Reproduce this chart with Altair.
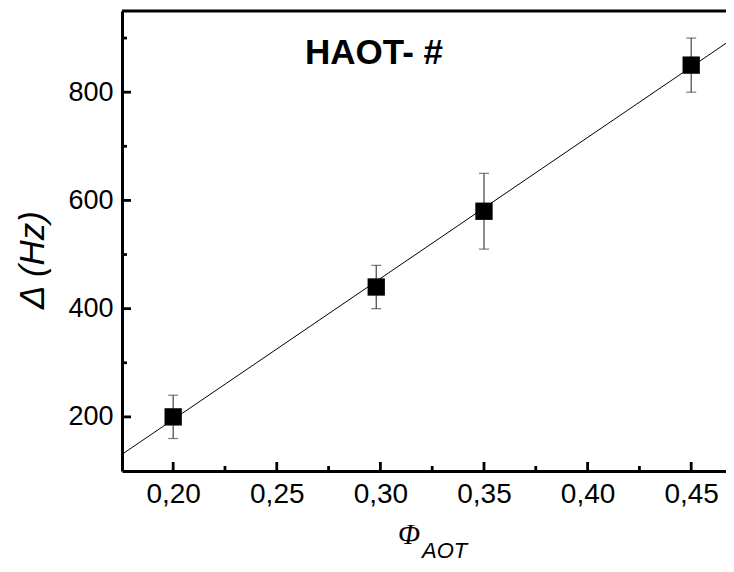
import altair as alt
import pandas as pd

# data
phi = [0.20, 0.298, 0.35, 0.45]
delta = [200, 440, 580, 850]
err_lo = [160, 400, 510, 800]
err_hi = [240, 480, 650, 900]
fit_x = [0.175, 0.4705]
fit_y = [130, 900]
x_major = [0.20, 0.25, 0.30, 0.35, 0.40, 0.45]
x_minor = [0.225, 0.275, 0.325, 0.375, 0.425]
y_major = [200, 400, 600, 800]
y_minor = [300, 500, 700, 900]
title_text = "HAOT- #"
ylabel_text = "\u0394 (Hz)"
xlabel_main = "\u03a6"
xlabel_sub = "AOT"

W, H = 604, 460
FONT = "Liberation Sans"

xscale = alt.Scale(domain=[0.1753, 0.4668], nice=False, zero=False)
yscale = alt.Scale(domain=[100, 950], nice=False, zero=False)

xaxis = alt.Axis(values=x_major, labelExpr="replace(format(datum.value, '.2f'), '.', ',')",
                 ticks=False, grid=False, title=None, domainWidth=3, domainColor="black",
                 labelFont=FONT, labelFontSize=28, labelColor="black", labelPadding=9)
yaxis = alt.Axis(values=y_major, format="d", ticks=False, grid=False, title=None,
                 domainWidth=3, domainColor="black",
                 labelFont=FONT, labelFontSize=27, labelColor="black", labelPadding=9)

pts = pd.DataFrame({"phi": phi, "delta": delta, "lo": err_lo, "hi": err_hi})
fit = pd.DataFrame({"phi": fit_x, "delta": fit_y})

X = lambda f: alt.X(f, type="quantitative", scale=xscale, axis=xaxis)
Y = lambda f: alt.Y(f, type="quantitative", scale=yscale, axis=yaxis)

EC = "#444444"
err = alt.Chart(pts).mark_rule(color=EC, strokeWidth=1.2).encode(x=X("phi"), y=Y("lo"), y2="hi")
cap_lo = alt.Chart(pts).mark_tick(color=EC, orient="horizontal", size=10, thickness=1.2).encode(x=X("phi"), y=Y("lo"))
cap_hi = alt.Chart(pts).mark_tick(color=EC, orient="horizontal", size=10, thickness=1.2).encode(x=X("phi"), y=Y("hi"))
line = alt.Chart(fit).mark_line(color="black", strokeWidth=1, clip=True).encode(x=X("phi"), y=Y("delta"))
sq = alt.Chart(pts).mark_square(color="black", filled=True, opacity=1, size=300).encode(x=X("phi"), y=Y("delta"))

def xticks(vals, length):
    return alt.Chart(pd.DataFrame({"v": vals})).mark_rule(color="black", strokeWidth=2.8).encode(
        x=X("v"), y=alt.value(H), y2=alt.value(H - length))

def yticks(vals, length):
    return alt.Chart(pd.DataFrame({"v": vals})).mark_rule(color="black", strokeWidth=2.8).encode(
        y=Y("v"), x=alt.value(0), x2=alt.value(length))

top = alt.Chart(pd.DataFrame({"a": [0]})).mark_rule(color="black", strokeWidth=3).encode(
    x=alt.value(0), x2=alt.value(W), y=alt.value(0))

ttl = alt.Chart(pd.DataFrame({"t": [title_text]})).mark_text(
    font=FONT, fontSize=35, fontWeight="bold", align="left", baseline="alphabetic", color="black"
).encode(text="t:N", x=alt.value(183), y=alt.value(53))

ylab = alt.Chart(pd.DataFrame({"t": [ylabel_text]})).mark_text(
    font=FONT, fontSize=35, fontStyle="italic", align="center", baseline="middle", angle=270, color="black"
).encode(text="t:N", x=alt.value(-89), y=alt.value(249))

xlab1 = alt.Chart(pd.DataFrame({"t": [xlabel_main]})).mark_text(
    font="Liberation Serif", fontSize=29, fontStyle="italic", align="center", baseline="alphabetic", color="black"
).encode(text="t:N", x=alt.value(287), y=alt.value(533))

xlab2 = alt.Chart(pd.DataFrame({"t": [xlabel_sub]})).mark_text(
    font=FONT, fontSize=22, fontStyle="italic", align="left", baseline="alphabetic", color="black"
).encode(text="t:N", x=alt.value(300), y=alt.value(547))

chart = alt.layer(
    err, cap_lo, cap_hi, line, sq,
    xticks(x_major, 9), xticks(x_minor, 5), yticks(y_major, 9), yticks(y_minor, 5),
    top, ttl, ylab, xlab1, xlab2
).properties(
    width=W, height=H,
    autosize=alt.AutoSizeParams(type="none"),
    padding={"left": 114, "top": 3, "right": 0, "bottom": 93},
    background="white",
).configure_view(stroke=None)

chart.save("out.html", embed_options={"renderer": "svg", "actions": False})
